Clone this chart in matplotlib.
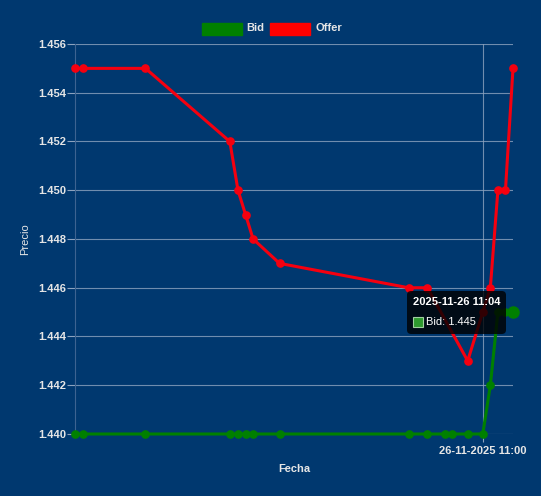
import matplotlib
matplotlib.use("Agg")
import matplotlib.pyplot as plt
import matplotlib.dates as mdates
from matplotlib.patches import Rectangle, FancyBboxPatch
import numpy as np
import pandas as pd

# ---- data ----
times = ["10:06:00", "10:07:00", "10:15:20", "10:26:30", "10:27:35", "10:28:35",
         "10:29:35", "10:33:05", "10:50:10", "10:52:40", "10:55:00", "10:55:55",
         "10:58:00", "11:00:00", "11:01:00", "11:02:00", "11:03:00", "11:04:00"]
bid = [1.440, 1.440, 1.440, 1.440, 1.440, 1.440, 1.440, 1.440, 1.440, 1.440,
       1.440, 1.440, 1.440, 1.440, 1.442, 1.445, 1.445, 1.445]
offer = [1.455, 1.455, 1.455, 1.452, 1.450, 1.449, 1.448, 1.447, 1.446, 1.446,
         np.nan, np.nan, 1.443, 1.445, 1.446, 1.450, 1.450, 1.455]
yticks = [1.440, 1.442, 1.444, 1.446, 1.448, 1.450, 1.452, 1.454, 1.456]
xtick_time = "11:00:00"
xtick_label = "26-11-2025 11:00"
date = "2025-11-26"
tooltip_title = "2025-11-26 11:04"
tooltip_body = "Bid: 1.445"

t = pd.to_datetime([f"{date} {s}" for s in times])
bid = np.array(bid)
offer = np.array(offer)

W, H = 541, 496
BG = "#00386f"
TXT = "#e6e6e6"
GRID = "#8da3bf"
GREEN = "#008000"
RED = "#f5000f"
FS = 8

plt.rcParams['font.family'] = ['Liberation Sans', 'DejaVu Sans']

fig = plt.figure(figsize=(W / 100, H / 100), dpi=100)
fig.patch.set_facecolor(BG)

def fx(x):
    return x / W

def fy(y):
    return 1 - y / H

L, R, T, B = 75, 513, 44, 434
ax = fig.add_axes([fx(L), fy(B), fx(R) - fx(L), fy(T) - fy(B)])
ax.set_facecolor(BG)

# lines
ax.plot(t, bid, color=GREEN, lw=2.2, marker='o', ms=5.2, mec=GREEN, mfc=GREEN, zorder=3,
        solid_joinstyle='round', clip_on=False)
m = ~np.isnan(offer)
ax.plot(t[m], offer[m], color=RED, lw=2.2, marker='o', ms=5.2, mec=RED, mfc=RED, zorder=3,
        solid_joinstyle='round', clip_on=False)
# hovered point
ax.plot([t[-1]], [bid[-1]], 'o', color=GREEN, ms=8, zorder=6, clip_on=False)

ax.set_xlim(t[0], t[-1])
ax.set_ylim(1.440, 1.456)
ax.set_yticks(yticks)
ax.set_yticklabels([f"{v:.3f}" for v in yticks])
xt = pd.to_datetime(f"{date} {xtick_time}")
ax.set_xticks([mdates.date2num(xt)])
ax.set_xticklabels([xtick_label])

for s in ['top', 'right', 'bottom']:
    ax.spines[s].set_visible(False)
ax.spines['left'].set_color("#3d6391")
ax.spines['left'].set_linewidth(0.8)

ax.grid(True, color=GRID, lw=0.8, alpha=0.8)
ax.set_axisbelow(True)
ax.tick_params(axis='y', colors=GRID, length=6, width=0.8, pad=0.5, labelsize=FS,
               labelcolor=TXT)
ax.tick_params(axis='x', colors=GRID, length=6, width=0.8, pad=3, labelsize=FS,
               labelcolor=TXT)
for lab in ax.get_yticklabels() + ax.get_xticklabels():
    lab.set_fontweight('bold')

# axis titles
fig.text(fx(25), fy(239), "Precio", rotation=90, ha='center', va='center',
         color=TXT, fontsize=FS)
fig.text(fx(294), fy(469), "Fecha", ha='center', va='center', color=TXT,
         fontsize=FS, fontweight='bold')

# legend
fig.patches.append(Rectangle((fx(202), fy(35)), fx(40), 12 / H, transform=fig.transFigure,
                             facecolor=GREEN, edgecolor=GREEN))
fig.text(fx(246), fy(28), "Bid", ha='left', va='center', color=TXT, fontsize=FS,
         fontweight='bold')
fig.patches.append(Rectangle((fx(270), fy(35)), fx(40), 12 / H, transform=fig.transFigure,
                             facecolor="#ff0000", edgecolor="#ff0000"))
fig.text(fx(315), fy(28), "Offer", ha='left', va='center', color=TXT, fontsize=FS,
         fontweight='bold')

# tooltip
tb = FancyBboxPatch((fx(407), fy(334)), fx(99), (334 - 291) / H,
                    boxstyle="round,pad=0,rounding_size=0.008",
                    transform=fig.transFigure, facecolor="black", alpha=0.8,
                    edgecolor='none', zorder=10)
fig.patches.append(tb)
fig.text(fx(413), fy(302), tooltip_title, ha='left', va='center', color='white',
         fontsize=FS, fontweight='bold', zorder=11)
fig.patches.append(Rectangle((fx(413), fy(327)), fx(10), 10 / H, transform=fig.transFigure,
                             facecolor="#2e9a2e", edgecolor="#9fd09f", lw=0.8, zorder=11))
fig.text(fx(426), fy(322), tooltip_body, ha='left', va='center', color='white',
         fontsize=FS, zorder=11)

fig.savefig("out.png", dpi=100, facecolor=BG)
